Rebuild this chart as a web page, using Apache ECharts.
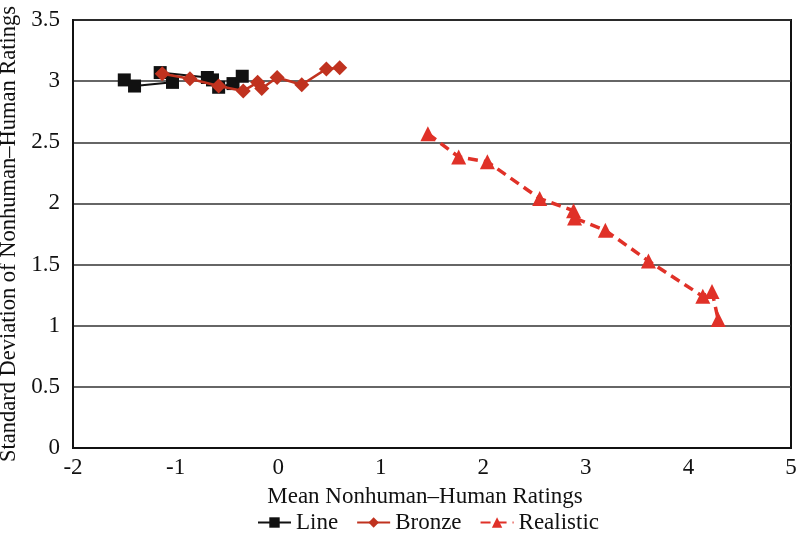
<!DOCTYPE html>
<html>
<head>
<meta charset="utf-8">
<script src="https://cdn.jsdelivr.net/npm/echarts@6/dist/echarts.min.js"></script>
<style>html,body{margin:0;padding:0;background:#fff}#c{width:800px;height:539px}</style>
</head>
<body>
<div id="c"></div>
<script>
const seriesNames = ["Line", "Bronze", "Realistic"];
const lineX = [-1.50, -1.40, -1.03, -1.15, -0.69, -0.64, -0.58, -0.44, -0.35];
const lineY = [3.01, 2.96, 2.99, 3.07, 3.03, 3.01, 2.95, 2.98, 3.04];
const bronzeX = [-1.13, -0.86, -0.58, -0.34, -0.20, -0.16, -0.01, 0.23, 0.47, 0.60];
const bronzeY = [3.06, 3.02, 2.96, 2.92, 2.99, 2.94, 3.03, 2.97, 3.10, 3.11];
const realisticX = [1.46, 1.76, 2.04, 2.55, 2.88, 2.89, 3.19, 3.61, 4.14, 4.23, 4.29];
const realisticY = [2.57, 2.38, 2.34, 2.04, 1.94, 1.88, 1.78, 1.53, 1.24, 1.28, 1.05];
const xTitle = "Mean Nonhuman–Human Ratings";
const yTitle = "Standard Deviation of Nonhuman–Human Ratings";

function pairs(xs, ys) { return xs.map((x, i) => [x, ys[i]]); }
const font = "Liberation Serif";
const chart = echarts.init(document.getElementById('c'), null, {renderer: 'canvas'});
chart.setOption({
  animation: false,
  backgroundColor: '#fff',
  grid: {left: 73, right: 9, top: 20, bottom: 91, show: true, borderColor: '#111', borderWidth: 2,
         containLabel: false, outerBoundsMode: 'none'},
  xAxis: {
    type: 'value', min: -2, max: 5, interval: 1,
    name: xTitle, nameLocation: 'middle', nameGap: 37,
    nameTextStyle: {fontFamily: font, fontSize: 23, color: '#111', padding: [0, 14, 0, 0]},
    axisLine: {show: true, onZero: false, lineStyle: {color: '#111', width: 2}},
    axisTick: {show: false},
    axisLabel: {fontFamily: font, fontSize: 23, color: '#111', margin: 8},
    splitLine: {show: false}
  },
  yAxis: {
    type: 'value', min: 0, max: 3.5, interval: 0.5,
    name: yTitle, nameLocation: 'middle', nameGap: 44,
    nameTextStyle: {fontFamily: font, fontSize: 22.5, color: '#111'},
    axisLine: {show: true, onZero: false, lineStyle: {color: '#111', width: 2}},
    axisTick: {show: false},
    axisLabel: {fontFamily: font, fontSize: 23, color: '#111', margin: 13},
    splitLine: {show: true, lineStyle: {color: '#333', width: 1.5}}
  },
  legend: {
    bottom: 0, left: 252, itemWidth: 33, itemHeight: 13, itemGap: 18,
    textStyle: {fontFamily: font, fontSize: 23, color: '#111'},
    data: seriesNames
  },
  series: [
    {
      name: seriesNames[0], type: 'line', data: pairs(lineX, lineY),
      symbol: 'rect', symbolSize: 13,
      lineStyle: {color: '#111', width: 2}, itemStyle: {color: '#111'}, z: 3
    },
    {
      name: seriesNames[1], type: 'line', data: pairs(bronzeX, bronzeY),
      symbol: 'diamond', symbolSize: 15,
      lineStyle: {color: '#c0321f', width: 2.5}, itemStyle: {color: '#c0321f'}, z: 4
    },
    {
      name: seriesNames[2], type: 'line', data: pairs(realisticX, realisticY),
      symbol: 'triangle', symbolSize: 15,
      lineStyle: {color: '#e03128', width: 3.5, type: [10, 6]}, itemStyle: {color: '#e03128'}, z: 4
    }
  ]
});
</script>
</body>
</html>
